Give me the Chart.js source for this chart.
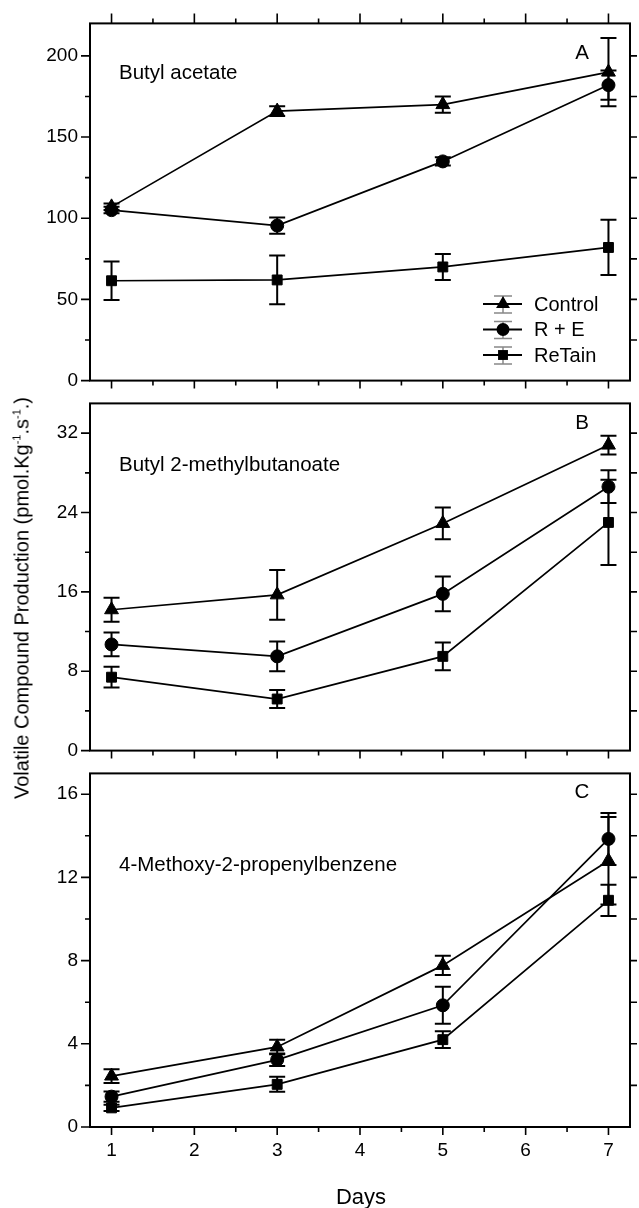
<!DOCTYPE html>
<html>
<head>
<meta charset="utf-8">
<script src="https://cdn.jsdelivr.net/npm/chart.js@4/dist/chart.umd.min.js"></script>
<style>
  html, body { margin: 0; padding: 0; background: #fff; }
  #wrap { position: relative; width: 639px; height: 1208px; overflow: hidden;
          font-family: 'Liberation Sans', Arial, sans-serif; color: #000; }
  #wrap canvas { position: absolute; left: 0; }
  #ytitle { position: absolute; left: 22px; top: 598px; white-space: nowrap; font-size: 20px;
            transform: translate(-50%, -50%) rotate(-90deg); }
  #ytitle sup { font-size: 11px; }
  #xtitle { position: absolute; left: 361px; top: 1197px; font-size: 22px;
            transform: translate(-50%, -50%); }
</style>
</head>
<body>
<div id="wrap">
  <canvas id="panelA" width="639" height="404" style="top:0px"></canvas>
  <canvas id="panelB" width="639" height="394" style="top:380px"></canvas>
  <canvas id="panelC" width="639" height="458" style="top:750px"></canvas>
  <div id="ytitle">Volatile Compound Production (pmol.Kg<sup>-1</sup>.s<sup>-1</sup>.)</div>
  <div id="xtitle">Days</div>
</div>
<script>
'use strict';

/* ---------- data ---------- */
const days = [1, 3, 5, 7];
const dayTicks = [1, 2, 3, 4, 5, 6, 7];
const seriesNames = ['Control', 'R + E', 'ReTain'];

// A — Butyl acetate
const acetateControl    = [107, 166, 170, 190];
const acetateControlErr = [2, 3, 5, 21];
const acetateRE         = [105, 95.5, 135, 182];
const acetateREErr      = [2, 5, 2.5, 9];
const acetateReTain     = [61.5, 62, 70, 82];
const acetateReTainErr  = [11.8, 15, 8, 17];
const acetateTicks      = [0, 50, 100, 150, 200];

// B — Butyl 2-methylbutanoate
const butanoateControl    = [14.2, 15.7, 22.9, 30.8];
const butanoateControlErr = [1.2, 2.5, 1.6, 0.95];
const butanoateRE         = [10.7, 9.5, 15.8, 26.6];
const butanoateREErr      = [1.2, 1.5, 1.75, 1.65];
const butanoateReTain     = [7.4, 5.2, 9.5, 23.0];
const butanoateReTainErr  = [1.05, 0.9, 1.4, 4.3];
const butanoateTicks      = [0, 8, 16, 24, 32];

// C — 4-Methoxy-2-propenylbenzene
const methoxyControl    = [2.45, 3.85, 7.77, 12.8];
const methoxyControlErr = [0.33, 0.35, 0.46, 2.1];
const methoxyRE         = [1.46, 3.23, 5.85, 13.85];
const methoxyREErr      = [0.25, 0.3, 0.89, 1.25];
const methoxyReTain     = [0.92, 2.05, 4.2, 10.9];
const methoxyReTainErr  = [0.15, 0.36, 0.4, 0.75];
const methoxyTicks      = [0, 4, 8, 12, 16];

/* ---------- style ---------- */
const FONT = "'Liberation Sans', Arial, sans-serif";
Chart.defaults.font.family = FONT;
Chart.defaults.font.size = 19;
Chart.defaults.color = '#000';

const markerStyles = [
  { pointStyle: 'triangle', radius: 8 },
  { pointStyle: 'circle',   radius: 6.5 },
  { pointStyle: 'rect',     radius: 7 },
];

/* ---------- plugins ---------- */
const errorBars = {
  id: 'errorBars',
  beforeDatasetsDraw(chart) {
    const { ctx, scales: { x, y } } = chart;
    ctx.save();
    ctx.strokeStyle = '#000';
    ctx.lineWidth = 2;
    chart.data.datasets.forEach(ds => {
      ds.data.forEach((p, j) => {
        const e = ds.errors[j];
        const px = x.getPixelForValue(p.x);
        const top = y.getPixelForValue(p.y + e);
        const bot = y.getPixelForValue(p.y - e);
        ctx.beginPath();
        ctx.moveTo(px, top); ctx.lineTo(px, bot);
        ctx.moveTo(px - 8, top); ctx.lineTo(px + 8, top);
        ctx.moveTo(px - 8, bot); ctx.lineTo(px + 8, bot);
        ctx.stroke();
      });
    });
    ctx.restore();
  }
};

// box border + tick marks (major/minor) on all four sides
const frame = {
  id: 'frame',
  afterDraw(chart, args, opts) {
    const { ctx, chartArea: a, scales: { x, y } } = chart;
    ctx.save();
    ctx.strokeStyle = '#000';
    ctx.lineWidth = 2;
    ctx.strokeRect(a.left, a.top, a.right - a.left, a.bottom - a.top);
    ctx.lineWidth = 1.6;
    ctx.beginPath();
    for (let d = dayTicks[0]; d <= dayTicks[dayTicks.length - 1]; d += 0.5) {
      const px = x.getPixelForValue(d);
      const major = Number.isInteger(d);
      ctx.moveTo(px, a.bottom); ctx.lineTo(px, a.bottom + (major ? 8 : 5));
      if (opts.topTicks) { ctx.moveTo(px, a.top); ctx.lineTo(px, a.top - (major ? 10 : 5)); }
    }
    const t = opts.ticks;
    const half = (t[1] - t[0]) / 2;
    for (let v = t[0]; v <= y.max; v += half) {
      const py = y.getPixelForValue(v);
      const major = t.includes(v);
      ctx.moveTo(a.left - (major ? 9 : 5), py); ctx.lineTo(a.left, py);
    }
    for (let v = opts.rightStep; v < y.max; v += opts.rightStep) {
      const py = y.getPixelForValue(v);
      ctx.moveTo(a.right, py); ctx.lineTo(a.right + 7, py);
    }
    ctx.stroke();
    ctx.restore();
  }
};

const panelText = {
  id: 'panelText',
  afterDraw(chart, args, opts) {
    const { ctx } = chart;
    ctx.save();
    ctx.fillStyle = '#000';
    ctx.font = '20.5px ' + FONT;
    ctx.textBaseline = 'middle';
    ctx.textAlign = 'left';
    ctx.fillText(opts.title, opts.titleX, opts.titleY);
    ctx.textAlign = 'center';
    ctx.fillText(opts.letter, opts.letterX, opts.letterY);
    ctx.restore();
  }
};

const keyBox = {
  id: 'keyBox',
  afterDraw(chart, args, opts) {
    if (!opts.show) return;
    const { ctx } = chart;
    ctx.save();
    seriesNames.forEach((name, i) => {
      const cy = opts.y + i * opts.dy;
      const cx = opts.x;
      ctx.strokeStyle = '#888';
      ctx.lineWidth = 1.5;
      ctx.beginPath();
      ctx.moveTo(cx, cy - 8); ctx.lineTo(cx, cy + 9);
      ctx.moveTo(cx - 9, cy - 8); ctx.lineTo(cx + 9, cy - 8);
      ctx.moveTo(cx - 9, cy + 9); ctx.lineTo(cx + 9, cy + 9);
      ctx.stroke();
      ctx.strokeStyle = '#000';
      ctx.lineWidth = 2;
      ctx.beginPath();
      ctx.moveTo(cx - 20, cy); ctx.lineTo(cx + 19, cy);
      ctx.stroke();
      ctx.fillStyle = '#000';
      ctx.lineWidth = 1;
      Chart.helpers.drawPoint(ctx, { pointStyle: markerStyles[i].pointStyle, radius: markerStyles[i].radius, rotation: 0 }, cx, cy);
      ctx.font = '20px ' + FONT;
      ctx.textAlign = 'left';
      ctx.textBaseline = 'middle';
      ctx.fillText(name, cx + 31, cy + 1);
    });
    ctx.restore();
  }
};

/* ---------- panel builder ---------- */
function buildPanel(id, p) {
  const toPoints = vals => days.map((d, i) => ({ x: d, y: vals[i] }));
  const datasets = p.series.map((vals, i) => ({
    label: seriesNames[i],
    data: toPoints(vals),
    errors: p.errors[i],
    borderColor: '#000',
    borderWidth: 1.7,
    backgroundColor: '#000',
    pointBackgroundColor: '#000',
    pointBorderColor: '#000',
    pointBorderWidth: 1,
    pointStyle: markerStyles[i].pointStyle,
    pointRadius: markerStyles[i].radius,
    tension: 0,
    clip: false,
  }));

  return new Chart(document.getElementById(id), {
    type: 'line',
    data: { datasets },
    plugins: [errorBars, frame, panelText, keyBox],
    options: {
      responsive: false,
      animation: false,
      devicePixelRatio: 1,
      layout: { padding: 0 },
      plugins: {
        legend: { display: false },
        tooltip: { enabled: false },
        frame: { ticks: p.ticks, rightStep: p.rightStep, topTicks: p.topTicks },
        panelText: p.text,
        keyBox: p.key || { show: false },
      },
      scales: {
        x: {
          type: 'linear', position: 'bottom', min: 0.74, max: 7.26,
          grid: { display: false, drawTicks: false }, border: { display: false },
          ticks: { display: p.xLabels, padding: 12, font: { size: 19 } },
          afterBuildTicks: s => { s.ticks = dayTicks.map(v => ({ value: v })); },
          afterFit: s => { s.height = p.bottomH; },
        },
        xTop: {
          type: 'linear', axis: 'x', position: 'top', min: 0.74, max: 7.26,
          grid: { display: false, drawTicks: false }, border: { display: false },
          ticks: { display: false },
          afterFit: s => { s.height = p.topH; },
        },
        y: {
          type: 'linear', position: 'left', min: 0, max: p.yMax,
          grid: { display: false, drawTicks: false }, border: { display: false },
          ticks: { padding: 12, font: { size: 19 } },
          afterBuildTicks: s => { s.ticks = p.ticks.map(v => ({ value: v })); },
          afterFit: s => { s.width = 90; },
        },
        yRight: {
          type: 'linear', axis: 'y', position: 'right', min: 0, max: p.yMax,
          grid: { display: false, drawTicks: false }, border: { display: false },
          ticks: { display: false },
          afterFit: s => { s.width = 7; },
        },
      },
    },
  });
}

buildPanel('panelA', {
  series: [acetateControl, acetateRE, acetateReTain],
  errors: [acetateControlErr, acetateREErr, acetateReTainErr],
  ticks: acetateTicks, yMax: 220, rightStep: 25, topTicks: true,
  topH: 19, bottomH: 15, xLabels: false,
  text: { title: 'Butyl acetate', titleX: 119, titleY: 73, letter: 'A', letterX: 582, letterY: 53 },
  key: { show: true, x: 503, y: 304, dy: 25.5 },
});

buildPanel('panelB', {
  series: [butanoateControl, butanoateRE, butanoateReTain],
  errors: [butanoateControlErr, butanoateREErr, butanoateReTainErr],
  ticks: butanoateTicks, yMax: 35, rightStep: 4, topTicks: false,
  topH: 9, bottomH: 16, xLabels: false,
  text: { title: 'Butyl 2-methylbutanoate', titleX: 119, titleY: 85, letter: 'B', letterX: 582, letterY: 43 },
});

buildPanel('panelC', {
  series: [methoxyControl, methoxyRE, methoxyReTain],
  errors: [methoxyControlErr, methoxyREErr, methoxyReTainErr],
  ticks: methoxyTicks, yMax: 17, rightStep: 2, topTicks: false,
  topH: 8, bottomH: 81, xLabels: true,
  text: { title: '4-Methoxy-2-propenylbenzene', titleX: 119, titleY: 115, letter: 'C', letterX: 582, letterY: 42 },
});
</script>
</body>
</html>
